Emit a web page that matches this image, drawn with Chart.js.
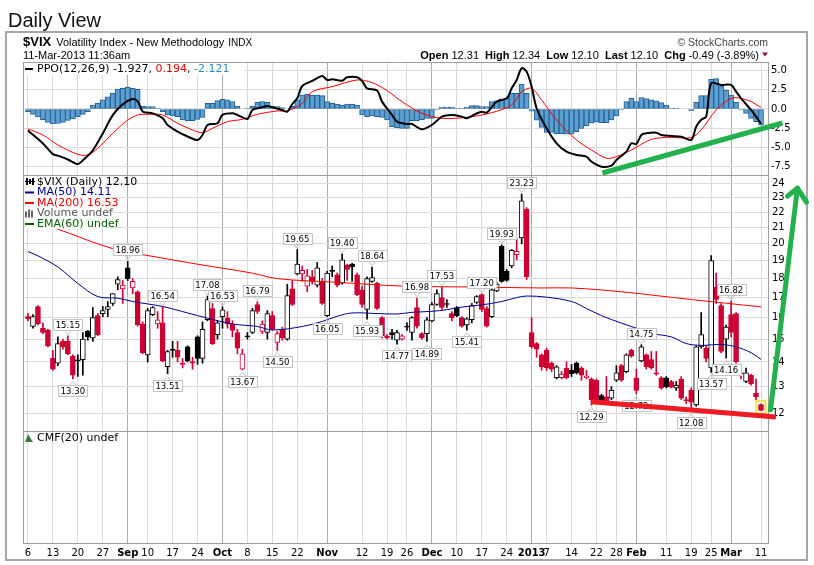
<!DOCTYPE html>
<html>
<head>
<meta charset="utf-8">
<script src="https://cdn.jsdelivr.net/npm/chart.js@4.4.0/dist/chart.umd.min.js"></script>
<style>
  html, body { margin: 0; padding: 0; background: #fff; }
</style>
</head>
<body>
<canvas id="chart" width="814" height="565"></canvas>
<script>
/* ============================================================
   $VIX daily view, Aug 6 2012 -> Mar 11 2013 (148 sessions)
   x = session index, labels come from tickIdx / tickText
   ============================================================ */

// weekly / monthly x labels
const tickIdx  = [0, 5, 10, 15, 20, 24, 29, 34, 39, 44, 49, 54, 60, 67, 72, 76, 81, 86, 91, 96, 101, 104, 109, 114, 118, 122, 128, 133, 137, 141, 147];
const tickText = ["6","13","20","27","Sep","10","17","24","Oct","8","15","22","Nov","12","19","26","Dec","10","17","24","2013","7","14","22","28","Feb","11","19","25","Mar","11"];
const monthTicks = [20, 39, 60, 81, 101, 122, 141];

const priceTicks = [12, 13, 14, 15, 16, 17, 18, 19, 20, 21, 22, 23, 24];
const ppoTicks = [-7.5, -5, -2.5, 0, 2.5, 5];

// daily candles
const openV = [
  16.05,15.58,16.55,15.5,15.4,14.15,13.95,14.9,14.9,14.25,
  14.08,14.1,15.35,15.05,16.1,16.2,16.4,16.7,17.7,17.45,
  18.6,17.5,17.3,15.7,14.3,16.15,15.7,15.75,13.8,14.55,
  14.5,13.95,14.65,14.02,15.1,14.15,15.9,16.45,15.2,16.05,
  15.98,15.7,15.3,13.7,15.15,15.3,16.65,15.35,15.3,16.1,
  14.85,15.45,15.0,17.45,18.25,18.25,17.6,18.1,17.65,17.85,
  16.1,18.45,18.2,17.75,18.75,18.8,18.2,17.4,16.4,17.85,
  17.75,16.0,15.15,15.3,14.95,15.0,15.6,15.3,16.5,15.25,
  15.25,15.85,16.65,17.0,16.7,16.2,16.5,16.0,15.65,15.9,
  16.75,17.15,16.45,16.05,17.35,19.85,18.4,18.7,19.35,20.35,
  22.2,15.3,14.8,14.3,14.5,13.95,13.35,13.35,13.75,13.65,
  13.95,13.75,13.35,13.3,13.25,12.65,12.6,12.55,13.25,13.85,
  13.6,14.5,13.35,14.05,14.3,14.1,13.55,13.35,13.35,13.2,
  12.95,13.3,12.5,12.85,12.3,14.65,14.6,13.75,17.55,16.6,
  15.0,16.15,16.2,13.55,13.2,13.45,12.75,12.31
];
const highV = [
  16.2,16.15,16.6,15.75,15.45,14.5,15.1,15.0,15.15,14.3,
  14.3,15.3,15.4,16.5,16.2,16.55,16.8,17.2,18.1,17.9,
  18.96,18.0,17.35,15.8,16.45,16.55,16.3,16.54,14.5,14.9,
  14.9,14.15,14.7,14.2,15.15,15.8,17.08,16.7,15.85,16.53,
  16.3,15.85,15.45,14.55,15.3,16.45,16.79,15.85,16.35,16.3,
  15.35,15.55,17.7,17.9,19.65,18.7,18.5,18.45,18.9,18.0,
  18.4,18.7,18.3,19.4,18.8,18.85,18.3,17.6,18.1,18.64,
  17.8,16.05,15.2,15.45,15.4,15.2,15.75,16.05,16.98,15.3,
  16.0,16.75,17.4,17.53,16.9,16.3,16.55,16.05,16.0,16.7,
  17.1,17.2,16.55,17.5,17.8,19.93,18.5,19.65,20.3,23.23,
  22.3,16.0,14.85,14.35,14.6,14.0,13.85,13.6,14.0,13.9,
  14.0,13.8,13.65,13.35,13.3,12.7,13.4,13.0,13.85,13.9,
  14.35,14.55,13.7,14.75,14.35,14.45,14.45,13.4,13.4,13.25,
  13.2,13.4,12.6,12.95,14.7,16.25,14.7,19.3,18.3,16.7,
  15.65,16.82,16.25,13.85,13.75,13.5,13.3,12.34
];
const lowV = [
  15.85,15.5,15.65,15.25,14.65,13.65,13.85,14.55,14.3,13.3,
  13.4,13.45,14.95,14.9,15.15,16.05,16.05,16.6,17.4,16.7,
  17.9,17.2,15.6,14.35,14.0,16.1,15.5,14.0,13.51,14.2,
  14.0,13.75,14.0,13.7,13.9,13.95,15.85,14.75,15.0,15.5,
  15.5,15.1,14.35,13.67,15.0,15.25,16.2,15.25,15.0,15.4,
  14.5,14.95,14.95,16.6,18.2,17.85,17.3,17.7,17.55,16.65,
  16.05,18.1,17.55,17.7,17.9,17.85,17.1,16.5,15.93,17.8,
  16.4,15.05,15.0,15.0,14.77,14.95,15.4,14.95,15.5,15.0,
  14.89,15.8,16.6,16.4,16.5,15.85,16.05,15.55,15.41,15.75,
  16.7,16.3,15.55,16.0,17.3,17.8,17.85,18.6,19.05,20.0,
  17.95,14.6,14.2,13.65,13.65,13.6,13.3,13.3,13.3,13.4,
  13.5,13.25,13.3,12.29,12.4,12.4,12.4,12.5,13.2,13.2,
  13.55,14.2,12.72,14.0,13.7,13.7,13.45,12.9,12.95,12.95,
  12.85,12.5,12.35,12.08,12.25,14.6,14.0,13.57,16.7,14.4,
  14.16,15.1,13.95,13.3,13.15,13.05,12.5,12.10
];
const closeV = [
  15.95,16.05,15.7,15.3,14.7,13.7,14.8,14.65,14.35,13.45,
  14.05,15.0,15.1,16.0,15.2,16.35,16.55,17.2,17.95,17.65,
  18.0,17.85,15.65,14.4,16.35,16.5,15.9,14.05,14.45,14.5,
  14.2,13.9,14.05,13.95,14.15,15.45,16.9,14.8,15.75,16.38,
  15.7,15.4,14.6,14.35,15.1,16.35,16.3,15.7,16.2,15.45,
  15.25,15.05,17.1,16.65,18.8,18.45,18.15,17.85,18.6,16.7,
  18.3,18.4,17.65,19.05,18.5,18.65,17.15,16.65,18.0,18.05,
  16.45,15.15,15.05,15.2,15.3,15.15,15.55,16.0,15.6,15.05,
  15.9,16.65,17.2,16.5,16.65,16.0,16.1,15.6,15.95,16.6,
  17.05,16.4,15.6,17.4,17.7,17.85,17.9,19.6,19.55,22.75,
  18.1,14.65,14.55,13.8,13.75,13.7,13.8,13.5,13.35,13.5,
  13.55,13.45,13.42,12.5,12.45,12.46,12.45,12.85,13.55,13.25,
  14.3,14.25,12.85,14.65,13.8,13.75,13.5,12.95,13.0,12.98,
  13.05,12.55,12.45,12.4,14.65,15.2,14.15,19.0,16.9,14.45,
  15.55,15.3,14.0,13.5,13.55,13.1,12.6,12.10
];

// moving averages at these sessions
const ma50Idx = [0, 2, 6, 10, 14, 18, 21, 27, 32, 36, 41, 46, 49, 55, 59, 62, 65, 70, 74, 77, 81, 84, 87, 91, 95, 98, 100, 104, 109, 112, 115, 119, 122, 125, 129, 132, 135, 139, 142, 145, 147];
const ma50Val = [19.53, 19.28, 18.64, 17.74, 17.05, 16.97, 16.8, 16.55, 16.23, 15.98, 15.7, 15.58, 15.42, 15.58, 15.82, 16.07, 16.23, 16.2, 16.18, 16.26, 16.31, 16.39, 16.52, 16.63, 16.8, 17.0, 17.08, 17.02, 16.8, 16.45, 16.1, 15.74, 15.5, 15.26, 15.1, 14.8, 14.72, 14.76, 14.65, 14.4, 14.11];
const ma200Idx = [0, 5, 17, 26, 34, 45, 50, 62, 75, 89, 103, 109, 119, 133, 147];
const ma200Val = [21.4, 21.0, 19.7, 19.2, 18.8, 18.3, 18.0, 17.8, 17.6, 17.55, 17.5, 17.5, 17.3, 16.9, 16.53];

// PPO(12,26,9)
const ppoIdx = [0,3,5,6,8,10,11,13,15,17,19,21,22,23,24,25,27,28,30,32,34,35,36,38,39,41,42,44,45,47,48,49,51,52,53,54,55,57,59,60,61,63,64,66,67,68,70,71,73,74,76,77,79,81,83,85,87,88,90,91,92,94,96,97,98,99,100,101,102,104,106,108,110,112,113,115,117,118,120,121,122,123,124,126,127,129,131,133,134,135,136,137,139,141,142,143,145,146,147];
const ppoVal = [-2.8,-4.5,-5.9,-6.1,-6.6,-7.2,-6.7,-5.4,-3.2,-0.8,0.6,1.3,1.0,-0.35,-0.48,-0.57,-1.2,-2.1,-2.96,-3.6,-4.05,-3.4,-2.1,-1.87,-0.78,-0.57,-0.78,-1.31,-0.13,0.22,0.39,0.22,-0.13,-0.35,0.65,1.39,3.0,3.66,4.31,3.79,3.88,3.7,4.14,4.14,3.66,2.7,2.4,0.96,-0.78,-1.66,-1.96,-1.96,-2.66,-2.09,-1.0,-0.78,-1.0,-1.22,-0.57,-0.35,-0.48,0.96,1.39,2.7,3.79,5.32,4.88,2.92,0.09,-2.53,-4.49,-5.58,-6.01,-6.23,-6.88,-7.54,-7.41,-6.67,-5.58,-4.49,-4.58,-3.4,-3.18,-3.1,-3.4,-3.53,-3.62,-4.05,-2.31,-1.4,-1.0,3.36,3.14,3.14,2.27,1.39,-0.13,-1.0,-1.93];
const sigIdx = [0,3,6,10,12,14,17,20,22,24,27,30,33,35,37,40,43,46,50,52,55,57,61,66,69,72,75,79,83,88,93,97,99,101,103,106,110,113,116,118,121,125,129,133,135,138,141,143,145,147];
const sigVal = [-2.6,-3.4,-4.7,-5.93,-6.01,-5.14,-3.18,-1.44,-0.78,-0.7,-0.78,-1.87,-2.74,-3.1,-2.53,-1.66,-1.35,-0.7,-0.26,-0.26,0.74,2.27,2.92,3.79,3.44,2.4,0.96,-0.57,-1.22,-1.09,-0.48,0.52,2.27,2.7,1.18,-1.44,-4.05,-5.36,-6.45,-6.23,-5.36,-3.97,-3.7,-3.75,-2.74,-0.13,1.39,1.39,0.96,0.19];
const ppoHist = [
  -0.35,-0.7,-1.05,-1.4,-1.75,-1.96,-1.9,-1.75,-1.5,-1.3,
  -1.05,-0.7,-0.35,0.5,0.74,1.18,1.6,2.05,2.6,2.7,
  2.83,2.7,2.57,0.39,0.3,0.3,0.09,-0.35,-0.78,-0.9,
  -1.0,-1.44,-1.53,-1.53,-1.35,-1.09,0.74,0.74,1.09,1.26,
  1.18,0.96,0.39,0.0,0.09,0.39,0.87,0.96,0.87,0.39,
  0.3,0.17,0.0,0.39,1.18,1.83,1.92,1.83,1.83,1.74,
  0.96,0.74,0.65,0.52,0.65,0.65,0.52,-0.78,-1.0,-0.92,
  -1.0,-1.09,-1.44,-2.3,-2.44,-2.53,-2.53,-1.53,-1.53,-1.4,
  -1.22,-1.22,-0.13,0.26,0.26,0.26,0.09,0.09,0.22,0.44,
  0.44,0.3,0.3,0.96,1.05,1.3,1.39,2.05,2.05,3.27,
  2.05,-0.3,-1.45,-2.4,-3.05,-3.05,-3.25,-3.25,-3.3,-3.3,
  -2.96,-2.53,-2.22,-1.87,-1.74,-1.79,-1.79,-1.44,-0.92,-0.13,
  0.96,1.39,0.96,1.48,1.35,1.18,1.05,0.83,0.52,0.09,
  0.09,0.0,0.0,-0.22,0.87,1.74,1.74,3.88,3.97,3.0,
  2.48,1.83,0.87,-0.13,-0.57,-1.22,-1.66,-2.12
];

// sessions carrying a high / low price tag
const highTagIdx = [8, 20, 27, 36, 39, 46, 54, 63, 69, 78, 83, 91, 95, 99, 123, 141];
const lowTagIdx  = [9, 28, 43, 50, 60, 68, 74, 80, 88, 113, 122, 133, 137, 140];

// hand-drawn annotations: [session, value]
const redTrend   = [[113.0, 12.42], [150.0, 11.86]];
const greenTrend = [[115.2, -8.37], [151.3, -1.83]];
const greenArrow = [[148.9, 12.12], [154.3, 23.64]];

/* ---------------- styling helpers ---------------- */
const RED = "#cc0033", BLK = "#000000";
const N = closeV.length;
const sess = closeV.map((_, i) => i);
const candleCol = closeV.map((c, i) => (i > 0 ? c >= closeV[i - 1] : c >= openV[i]) ? BLK : RED);
const bodyFill = closeV.map((c, i) => c >= openV[i] ? "#ffffff" : candleCol[i]);

Chart.defaults.font.family = "'DejaVu Sans', Verdana, sans-serif";
Chart.defaults.color = "#000";

function pairs(xs, ys){ return xs.map((x, k) => ({ x: x, y: ys[k] })); }

function tagBox(c, x, yAnchor, text, above){
  c.font = "8.5px 'DejaVu Sans'";
  const w = Math.round(c.measureText(text).width) + 5, h = 11;
  const bx = Math.round(x - w / 2) + 0.5;
  const by = Math.round(above ? yAnchor - 6 - h : yAnchor + 6) + 0.5;
  c.fillStyle = "#fff"; c.strokeStyle = "#c4c4c4"; c.lineWidth = 1;
  c.fillRect(bx, by, w, h); c.strokeRect(bx, by, w, h);
  c.beginPath();
  if (above){ c.moveTo(x - 3.5, by + h); c.lineTo(x, by + h + 4); c.lineTo(x + 3.5, by + h); }
  else      { c.moveTo(x - 3.5, by);     c.lineTo(x, by - 4);     c.lineTo(x + 3.5, by); }
  c.stroke();
  c.fillStyle = "#000"; c.textAlign = "center"; c.textBaseline = "middle";
  c.fillText(text, x, by + h / 2 + 0.5);
}

function runText(c, x, y, parts){
  parts.forEach(p => {
    c.font = p.font; c.fillStyle = p.color || "#000";
    c.fillText(p.t, x, y);
    x += c.measureText(p.t).width;
  });
  return x;
}

const decor = {
  id: "decor",
  beforeDraw(chart){
    const c = chart.ctx;
    c.save();
    c.fillStyle = "#fff"; c.fillRect(0, 0, chart.width, chart.height);
    c.textBaseline = "alphabetic"; c.textAlign = "left";
    c.fillStyle = "#111"; c.font = "20px 'Liberation Sans'";
    c.fillText("Daily View", 8, 26.5);
    c.strokeStyle = "#a6a6a6"; c.lineWidth = 2;
    c.strokeRect(6, 32, 801, 528);

    let x = runText(c, 23, 46, [{ t: "$VIX", font: "bold 13px 'Liberation Sans'" }]);
    x = runText(c, x + 5, 46, [{ t: "Volatility Index - New Methodology", font: "11px 'Liberation Sans'" }]);
    runText(c, x + 4, 46, [{ t: "INDX", font: "10px 'Liberation Sans'" }]);
    runText(c, 23, 58.5, [{ t: "11-Mar-2013 11:36am", font: "11px 'Liberation Sans'" }]);

    c.textAlign = "right"; c.fillStyle = "#444"; c.font = "10.5px 'Liberation Sans'";
    c.fillText("\u00a9 StockCharts.com", 768, 45.5);
    c.textAlign = "left";

    const B = "bold 11px 'Liberation Sans'", R = "11px 'Liberation Sans'";
    const parts = [
      { t: "Open", font: B }, { t: " 12.31", font: R },
      { t: "  High", font: B }, { t: " 12.34", font: R },
      { t: "  Low", font: B }, { t: " 12.10", font: R },
      { t: "  Last", font: B }, { t: " 12.10", font: R },
      { t: "  Chg", font: B }, { t: " -0.49 (-3.89%)", font: R }
    ];
    let tw = 0;
    parts.forEach(p => { c.font = p.font; tw += c.measureText(p.t).width; });
    runText(c, 759 - tw, 58.5, parts);
    c.fillStyle = "#8b1a2b";
    c.beginPath(); c.moveTo(762, 52.5); c.lineTo(768, 52.5); c.lineTo(765, 56.5); c.closePath(); c.fill();
    c.restore();
  },
  afterDatasetsDraw(chart){
    const c = chart.ctx, xs = chart.scales.x, yO = chart.scales.yO, yP = chart.scales.yP, yC = chart.scales.yC;
    const L = chart.chartArea.left, R = chart.chartArea.right;
    c.save();

    // panel frames
    c.strokeStyle = "#9e9e9e"; c.lineWidth = 1;
    c.beginPath();
    [yO.top, yP.top, yC.top].forEach(y => { const yy = Math.round(y) + 0.5; c.moveTo(L, yy); c.lineTo(R, yy); });
    c.moveTo(Math.round(L) + 0.5, yO.top); c.lineTo(Math.round(L) + 0.5, yC.bottom);
    c.stroke();

    // high / low tags
    highTagIdx.forEach(i => tagBox(c, xs.getPixelForValue(i), yP.getPixelForValue(highV[i]), highV[i].toFixed(2), true));
    lowTagIdx.forEach(i => tagBox(c, xs.getPixelForValue(i), yP.getPixelForValue(lowV[i]), lowV[i].toFixed(2), false));

    // PPO legend
    c.textAlign = "left"; c.textBaseline = "middle";
    const F = "11px 'DejaVu Sans'";
    const ly = yO.top + 7;
    c.fillStyle = "#fff"; c.fillRect(L + 1, yO.top + 1, 220, 12);
    c.fillStyle = "#000"; c.fillRect(L + 2, ly - 1, 8, 2);
    runText(c, L + 14, ly, [
      { t: "PPO(12,26,9) -1.927", font: F, color: "#000" },
      { t: ", ", font: F, color: "#000" },
      { t: "0.194", font: F, color: "#e00000" },
      { t: ", ", font: F, color: "#000" },
      { t: "-2.121", font: F, color: "#2e8bc0" }
    ]);

    // price legend
    const py = yP.top + 7, step = 10.5;
    c.fillStyle = "#fff"; c.fillRect(L + 1, yP.top + 1, 82, 53);
    const rows = [
      { t: "$VIX (Daily) 12.10", col: "#000" },
      { t: "MA(50) 14.11", col: "#00008b" },
      { t: "MA(200) 16.53", col: "#ee0000" },
      { t: "Volume undef", col: "#555" },
      { t: "EMA(60) undef", col: "#006400" }
    ];
    rows.forEach((r, k) => {
      const y = py + k * step;
      c.font = F; c.fillStyle = r.col; c.fillText(r.t, L + 14, y);
      if (k === 0){
        c.fillStyle = "#000";
        c.fillRect(L + 3, y - 4, 2, 7); c.fillRect(L + 6, y - 3, 2, 5); c.fillRect(L + 9, y - 4, 2, 7);
        c.fillRect(L + 2, y - 1, 10, 1);
      } else if (k === 3){
        c.fillStyle = "#666";
        c.fillRect(L + 2, y - 2, 2, 6); c.fillRect(L + 5, y - 4, 2, 8); c.fillRect(L + 8, y - 3, 2, 7);
      } else {
        c.fillStyle = r.col; c.fillRect(L + 2, y - 1, 9, 2);
      }
    });

    // CMF legend
    const cy = yC.top + 7;
    c.fillStyle = "#3a7d3a";
    c.beginPath(); c.moveTo(L + 2, cy + 4); c.lineTo(L + 5, cy - 4); c.lineTo(L + 8, cy + 1); c.lineTo(L + 10, cy + 4); c.closePath(); c.fill();
    c.font = F; c.fillStyle = "#000"; c.fillText("CMF(20) undef", L + 14, cy);

    // highlight of the last session
    const lx = xs.getPixelForValue(N - 1);
    c.strokeStyle = "#f4e04a"; c.lineWidth = 2;
    c.strokeRect(lx - 4.5, yP.getPixelForValue(highV[N - 1]) - 3, 9, yP.getPixelForValue(lowV[N - 1]) - yP.getPixelForValue(highV[N - 1]) + 6);

    // trend lines and arrow
    c.lineCap = "butt";
    c.strokeStyle = "#ed1c24"; c.lineWidth = 5;
    c.beginPath();
    c.moveTo(xs.getPixelForValue(redTrend[0][0]), yP.getPixelForValue(redTrend[0][1]));
    c.lineTo(xs.getPixelForValue(redTrend[1][0]), yP.getPixelForValue(redTrend[1][1]));
    c.stroke();

    c.strokeStyle = "#22b14c";
    c.beginPath();
    c.moveTo(xs.getPixelForValue(greenTrend[0][0]), yO.getPixelForValue(greenTrend[0][1]));
    c.lineTo(xs.getPixelForValue(greenTrend[1][0]), yO.getPixelForValue(greenTrend[1][1]));
    c.stroke();

    const ax0 = xs.getPixelForValue(greenArrow[0][0]), ay0 = yP.getPixelForValue(greenArrow[0][1]);
    const ax1 = xs.getPixelForValue(greenArrow[1][0]), ay1 = yP.getPixelForValue(greenArrow[1][1]);
    c.lineCap = "round"; c.lineJoin = "round";
    c.beginPath(); c.moveTo(ax0, ay0); c.lineTo(ax1, ay1); c.stroke();
    c.beginPath(); c.moveTo(ax1 - 10, ay1 + 8); c.lineTo(ax1, ay1); c.lineTo(ax1 + 9, ay1 + 14); c.stroke();
    c.restore();
  }
};

const gridCol = "#dadada";

new Chart(document.getElementById("chart"), {
  type: "bar",
  data: {
    datasets: [
      { type: "line", label: "MA50", yAxisID: "yP", data: pairs(ma50Idx, ma50Val), borderColor: "#00008b", borderWidth: 1, pointRadius: 0, tension: 0.35, order: 1 },
      { type: "line", label: "MA200", yAxisID: "yP", data: pairs(ma200Idx, ma200Val), borderColor: "#ff0000", borderWidth: 1, pointRadius: 0, tension: 0.35, order: 1 },
      { type: "line", label: "PPO", yAxisID: "yO", data: pairs(ppoIdx, ppoVal), borderColor: "#000", borderWidth: 2, pointRadius: 0, tension: 0.3, order: 1 },
      { type: "line", label: "Signal", yAxisID: "yO", data: pairs(sigIdx, sigVal), borderColor: "#ff0000", borderWidth: 1, pointRadius: 0, tension: 0.3, order: 2 },
      { label: "body", yAxisID: "yP", data: sess.map(i => ({ x: i, y: [openV[i], closeV[i]] })),
        backgroundColor: bodyFill, borderColor: candleCol, borderWidth: 1, borderSkipped: false,
        barThickness: 5, minBarLength: 1, grouped: false, order: 3 },
      { label: "wick", yAxisID: "yP", data: sess.map(i => ({ x: i, y: [lowV[i], highV[i]] })),
        backgroundColor: candleCol, borderWidth: 0, barThickness: 1, grouped: false, order: 4 },
      { label: "hist", yAxisID: "yO", data: sess.map(i => ({ x: i, y: ppoHist[i] })),
        backgroundColor: "#5c9fd1", borderColor: "#245f93", borderWidth: 1, borderSkipped: false,
        barThickness: 5, grouped: false, order: 5 }
    ]
  },
  options: {
    responsive: false,
    animation: false,
    layout: { padding: { left: 23, top: 62, right: 20, bottom: 2 } },
    plugins: { legend: { display: false }, tooltip: { enabled: false } },
    scales: {
      x: {
        type: "linear", min: -1, max: 148.4, offset: false,
        grid: { offset: false, drawTicks: false,
                color: ctx => (ctx.tick && monthTicks.includes(ctx.tick.value)) ? "#ababab" : gridCol },
        border: { display: true, color: "#9e9e9e" },
        afterBuildTicks: s => { s.ticks = tickIdx.map(v => ({ value: v })); },
        afterFit: s => { s.height = 20; },
        ticks: {
          autoSkip: false, maxRotation: 0, padding: 4, color: "#000",
          font: ctx => ({ family: "'DejaVu Sans'", size: 10, weight: (ctx.tick && monthTicks.includes(ctx.tick.value)) ? "bold" : "normal" }),
          callback: (v, k) => tickText[k]
        }
      },
      yO: {
        type: "linear", position: "right", stack: "panels", stackWeight: 113,
        min: -8.63, max: 6.14,
        grid: { color: gridCol, drawTicks: false },
        border: { display: true, color: "#9e9e9e" },
        afterBuildTicks: s => { s.ticks = ppoTicks.map(v => ({ value: v })); },
        afterFit: s => { s.width = 26; },
        ticks: { autoSkip: false, crossAlign: "near", padding: 3, font: { size: 10 }, callback: v => v.toFixed(1) }
      },
      yP: {
        type: "logarithmic", position: "right", stack: "panels", stackWeight: 256,
        min: 11.37, max: 24.6,
        grid: { color: gridCol, drawTicks: false },
        border: { display: true, color: "#9e9e9e" },
        afterBuildTicks: s => { s.ticks = priceTicks.map(v => ({ value: v })); },
        afterFit: s => { s.width = 26; },
        ticks: { autoSkip: false, crossAlign: "near", padding: 4, font: { size: 10 }, callback: v => String(v) }
      },
      yC: {
        type: "linear", position: "right", stack: "panels", stackWeight: 112,
        min: 0, max: 1,
        grid: { display: false },
        border: { display: true, color: "#9e9e9e" },
        afterFit: s => { s.width = 26; },
        ticks: { display: false }
      }
    }
  },
  plugins: [decor]
});
</script>
</body>
</html>
